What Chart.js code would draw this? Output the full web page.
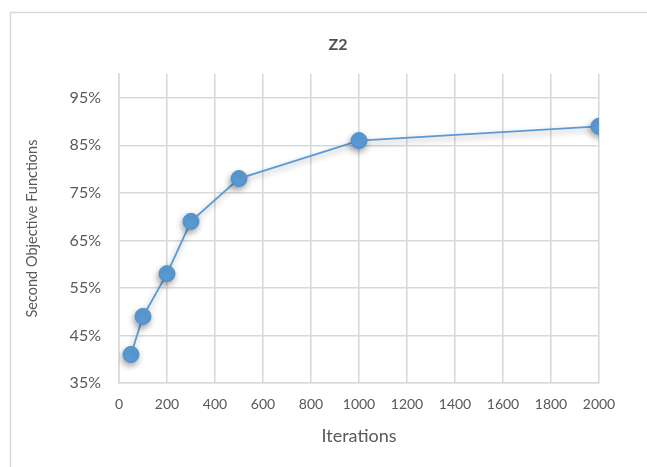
<!DOCTYPE html>
<html>
<head>
<meta charset="utf-8">
<title>Z2</title>
<script src="https://cdn.jsdelivr.net/npm/chart.js@4/dist/chart.umd.min.js"></script>
<style>
  html, body { margin: 0; padding: 0; background: #ffffff; }
  #wrap { position: relative; width: 647px; height: 467px; }
  canvas { display: block; }
</style>
</head>
<body>
<div id="wrap"><canvas id="chart" width="647" height="467"></canvas></div>
<script>
// Iteration counts and the second objective value (%) reached at each
const iterations = [50, 100, 200, 300, 500, 1000, 2000];
const secondObjective = [41, 49, 58, 69, 78, 86, 89];
// Axis tick values
const xTicks = [0, 200, 400, 600, 800, 1000, 1200, 1400, 1600, 1800, 2000];
const yTicks = [35, 45, 55, 65, 75, 85, 95];
const chartTitle = 'Z2';

const FONT = 'Lato, "Open Sans", sans-serif';
const TEXT = '#595959';
const GRID = '#d9d9d9';
const BLUE = '#5b9bd5';

// Light frame around the chart, with the title centred in the frame
const framePlugin = {
  id: 'frame',
  beforeDraw(chart) {
    const ctx = chart.ctx;
    ctx.save();
    ctx.fillStyle = '#ffffff';
    ctx.fillRect(0, 0, chart.width, chart.height);
    ctx.strokeStyle = GRID;
    ctx.lineWidth = 1.5;
    ctx.strokeRect(10.5, 12.5, 655, 500);
    ctx.restore();
  },
  afterDraw(chart) {
    const ctx = chart.ctx;
    ctx.save();
    ctx.fillStyle = '#505050';
    ctx.font = 'bold 16px ' + FONT;
    ctx.textAlign = 'center';
    ctx.textBaseline = 'middle';
    ctx.fillText(chartTitle, 338, 45);
    ctx.restore();
  }
};
// Soft shadow under the line and markers
const shadowPlugin = {
  id: 'seriesShadow',
  beforeDatasetsDraw(chart) {
    const ctx = chart.ctx;
    ctx.save();
    ctx.shadowColor = 'rgba(0,0,0,0.35)';
    ctx.shadowBlur = 6;
    ctx.shadowOffsetX = -1;
    ctx.shadowOffsetY = 3;
  },
  afterDatasetsDraw(chart) {
    chart.ctx.restore();
  }
};

new Chart(document.getElementById('chart'), {
  type: 'scatter',
  data: {
    datasets: [{
      label: chartTitle,
      data: iterations.map((x, i) => ({ x: x, y: secondObjective[i] })),
      showLine: true,
      borderColor: BLUE,
      borderWidth: 1.8,
      backgroundColor: BLUE,
      pointBackgroundColor: BLUE,
      pointBorderColor: '#4f8fcc',
      pointBorderWidth: 1,
      pointRadius: 8,
      pointHoverRadius: 8,
      tension: 0
    }]
  },
  options: {
    responsive: false,
    animation: false,
    layout: { padding: { left: 0, right: 48, top: 74, bottom: 0 } },
    plugins: {
      legend: { display: false },
      tooltip: { enabled: false },
      title: { display: false }
    },
    scales: {
      x: {
        type: 'linear',
        min: 0,
        max: 2000,
        afterBuildTicks(scale) { scale.ticks = xTicks.map(v => ({ value: v })); },
        afterFit(scale) { scale.height = 84; },
        grid: { color: GRID, lineWidth: 1.6, drawTicks: false },
        border: { color: GRID, width: 1.6 },
        ticks: {
          color: TEXT,
          font: { family: FONT, size: 14 },
          padding: 13,
          maxRotation: 0,
          callback: v => String(v)
        },
        title: {
          display: true,
          text: 'Iterations',
          color: TEXT,
          font: { family: FONT, size: 18, lineHeight: 1.2 },
          padding: { top: 0, bottom: 20 }
        }
      },
      y: {
        type: 'linear',
        min: 35,
        max: 100,
        afterBuildTicks(scale) { scale.ticks = yTicks.map(v => ({ value: v })); },
        afterFit(scale) { scale.width = 119; },
        grid: { color: GRID, lineWidth: 1.6, drawTicks: false },
        border: { color: GRID, width: 1.6 },
        ticks: {
          color: TEXT,
          font: { family: FONT, size: 16 },
          padding: 18,
          callback: v => v + '%'
        },
        title: {
          display: true,
          text: 'Second Objective Functions',
          color: TEXT,
          font: { family: FONT, size: 14.5, lineHeight: 1.2 },
          padding: { top: 24, bottom: 0 }
        }
      }
    }
  },
  plugins: [framePlugin, shadowPlugin]
});
</script>
</body>
</html>
